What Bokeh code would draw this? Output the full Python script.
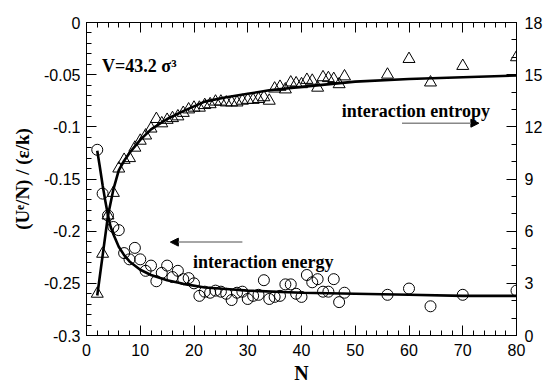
from bokeh.plotting import figure
from bokeh.models import (Range1d, LinearAxis, FixedTicker, Label, Arrow, NormalHead,
                          ColumnDataSource, CustomJSTickFormatter)
from bokeh.embed import file_html
from bokeh.resources import INLINE

# ---- data ----
energy_N = [2, 3, 4, 5, 6, 7, 8, 9, 10, 11, 12, 13, 14, 15, 16, 17, 18, 19, 20,
            21, 22, 23, 24, 25, 26, 27, 28, 29, 30, 31, 32, 33, 34, 35, 36, 37, 38,
            39, 40, 41, 42, 43, 44, 45, 46, 47, 48, 56, 60, 64, 70, 80]
energy_U = [-0.122, -0.164, -0.185, -0.196, -0.199, -0.221, -0.227, -0.216, -0.227,
            -0.238, -0.233, -0.248, -0.240, -0.233, -0.244, -0.238, -0.246, -0.245,
            -0.250, -0.262, -0.258, -0.259, -0.257, -0.258, -0.260, -0.266, -0.259,
            -0.258, -0.265, -0.262, -0.261, -0.247, -0.265, -0.263, -0.262, -0.251,
            -0.251, -0.260, -0.263, -0.242, -0.249, -0.246, -0.258, -0.258, -0.246,
            -0.268, -0.259, -0.261, -0.255, -0.272, -0.261, -0.257]

entropy_N = [2, 3, 4, 5, 6, 7, 8, 9, 10, 11, 12, 13, 14, 15, 16, 17, 18, 19, 20,
             21, 22, 23, 24, 25, 26, 27, 28, 29, 30, 31, 32, 33, 34, 35, 36, 37, 38,
             39, 40, 41, 42, 43, 44, 45, 46, 47, 48, 56, 60, 64, 70, 80]
entropy_S = [2.4, 4.7, 6.9, 8.2, 9.6, 10.1, 10.2, 10.8, 11.2, 11.5, 11.9, 12.45, 12.2,
             12.4, 12.5, 12.6, 12.8, 13.0, 13.1, 13.1, 13.25, 13.3, 13.45, 13.45, 13.4,
             13.4, 13.4, 13.5, 13.55, 13.55, 13.6, 13.7, 13.5, 14.2, 14.3, 14.15, 14.55,
             14.5, 14.45, 14.7, 14.65, 14.25, 14.85, 14.8, 14.75, 14.45, 14.9,
             15.0, 15.9, 14.55, 15.5, 16.0]

energy_fit_N = [2, 2.5, 3, 3.5, 4, 4.5, 5, 6, 7, 8, 10, 12, 15, 18, 22, 26, 30, 40, 50, 60, 70, 80]
energy_fit_U = [-0.123, -0.139, -0.156, -0.171, -0.185, -0.196, -0.203, -0.215, -0.223,
                -0.229, -0.237, -0.242, -0.247, -0.2505, -0.254, -0.2555, -0.257,
                -0.259, -0.260, -0.261, -0.262, -0.262]

entropy_fit_N = [2, 3, 4, 5, 6, 7, 8, 10, 12, 15, 18, 22, 26, 30, 34, 40, 50, 60, 70, 80]
entropy_fit_S = [2.3, 4.6, 6.9, 8.4, 9.5, 10.05, 10.5, 11.25, 11.85, 12.45, 12.9, 13.45,
                 13.7, 13.9, 14.1, 14.3, 14.6, 14.75, 14.85, 14.95]

x_ticks = [0, 10, 20, 30, 40, 50, 60, 70, 80]
y_ticks = [-0.3, -0.25, -0.2, -0.15, -0.1, -0.05, 0]
y_tick_labels = ["-0.3", "-0.25", "-0.2", "-0.15", "-0.1", "-0.05", "0"]
y2_ticks = [0, 3, 6, 9, 12, 15, 18]

SERIF = "Liberation Serif"
SANS = "Liberation Sans"

p = figure(width=547, height=387, x_range=Range1d(0, 80), y_range=Range1d(-0.3, 0),
           output_backend="svg", toolbar_location=None,
           min_border_left=86, min_border_right=31, min_border_top=22, min_border_bottom=52,
           x_axis_location=None, y_axis_location=None)
p.extra_y_ranges = {"right": Range1d(0, 18)}
p.xgrid.visible = False
p.ygrid.visible = False
p.outline_line_color = "black"
p.outline_line_width = 1
p.background_fill_color = "white"
p.border_fill_color = "white"


def style(ax):
    ax.axis_line_color = "black"
    ax.major_tick_line_color = "black"
    ax.minor_tick_line_color = "black"
    ax.major_tick_in = 10
    ax.major_tick_out = 0
    ax.minor_tick_in = 5
    ax.minor_tick_out = 0
    ax.major_label_text_font = SANS
    ax.major_label_text_font_size = "16px"
    ax.major_label_text_color = "black"
    ax.axis_label_text_font = SERIF
    ax.axis_label_text_font_style = "bold"
    ax.axis_label_text_color = "black"


xt = FixedTicker(ticks=x_ticks, minor_ticks=list(range(0, 81, 2)))
bottom = LinearAxis(ticker=xt, axis_label="N")
style(bottom)
bottom.major_label_standoff = 8
bottom.axis_label_text_font_size = "20px"
bottom.axis_label_standoff = 3
p.add_layout(bottom, "below")

top = LinearAxis(ticker=FixedTicker(ticks=x_ticks, minor_ticks=list(range(0, 81, 2))),
                 formatter=CustomJSTickFormatter(code="return ''"))
style(top)
top.major_label_standoff = 0
p.add_layout(top, "above")

yt = FixedTicker(ticks=y_ticks, minor_ticks=[-0.3 + 0.01 * i for i in range(31)])
left = LinearAxis(ticker=yt, axis_label="(Uᵉ/N) / (ε/k)")
style(left)
left.major_label_overrides = {t: s for t, s in zip(y_ticks, y_tick_labels)}
left.major_label_standoff = 6
left.axis_label_text_font_size = "19px"
left.axis_label_standoff = 8
p.add_layout(left, "left")

right = LinearAxis(y_range_name="right",
                   ticker=FixedTicker(ticks=y2_ticks, minor_ticks=list(range(0, 19))))
style(right)
right.major_label_standoff = 8
p.add_layout(right, "right")

# fitted curves
p.line(energy_fit_N, energy_fit_U, line_color="black", line_width=2.6)
p.line(entropy_fit_N, entropy_fit_S, line_color="black", line_width=2.6, y_range_name="right")

# data markers
src_e = ColumnDataSource(dict(N=energy_N, U=energy_U))
src_s = ColumnDataSource(dict(N=entropy_N, S=entropy_S))
p.scatter("N", "U", source=src_e, marker="circle", size=11, fill_alpha=0,
          line_color="black", line_width=1)
p.scatter("N", "S", source=src_s, marker="triangle", size=12, fill_alpha=0,
          line_color="black", line_width=1, y_range_name="right")

# annotations
lab = dict(text_font=SERIF, text_font_style="bold", text_font_size="18px",
           text_baseline="alphabetic", text_color="black")
p.add_layout(Label(x=2.9, y=-0.042, text="V=43.2 σ³", **lab))
p.add_layout(Label(x=47.5, y=-0.0845, text="interaction entropy", **lab))
p.add_layout(Label(x=19.8, y=-0.230, text="interaction energy", **lab))

p.add_layout(Arrow(x_start=58.7, y_start=-0.0965, x_end=73.0, y_end=-0.0965,
                   line_color="#888888", line_width=1.5,
                   end=NormalHead(size=8, fill_color="black", line_color="black")))
p.add_layout(Arrow(x_start=29.0, y_start=-0.2105, x_end=15.6, y_end=-0.2105,
                   line_color="#888888", line_width=1.5,
                   end=NormalHead(size=8, fill_color="black", line_color="black")))

open("out.html", "w").write(file_html(p, INLINE))
